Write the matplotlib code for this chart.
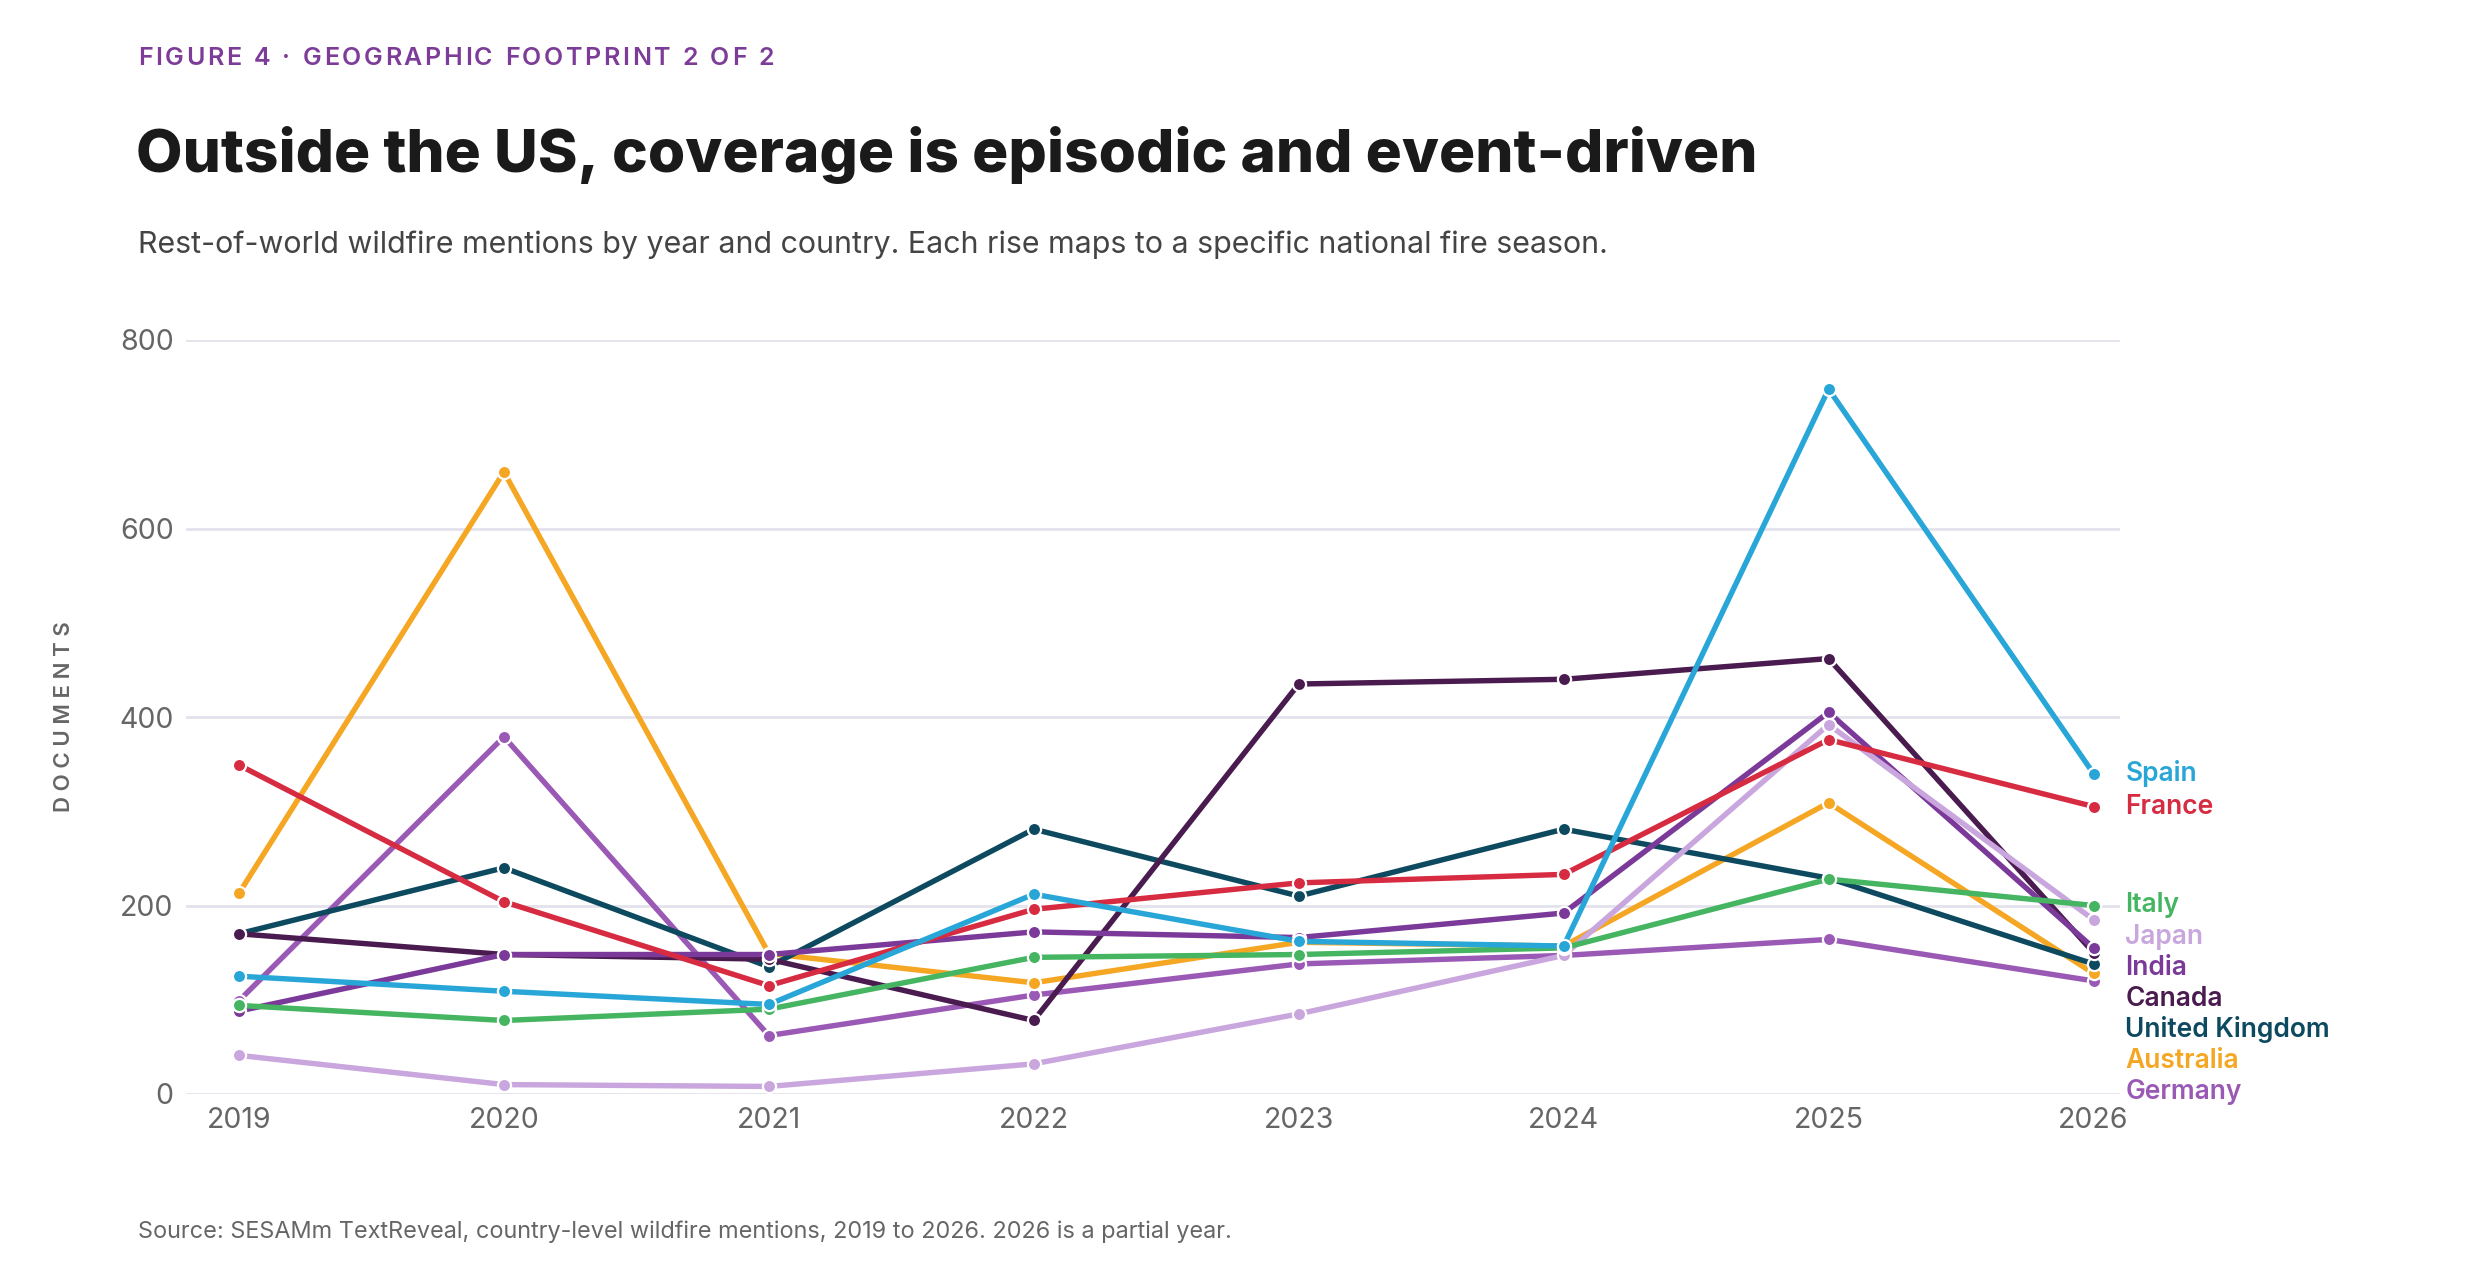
import matplotlib.pyplot as plt

years = [2019, 2020, 2021, 2022, 2023, 2024, 2025, 2026]

spain = [125, 109, 95, 212, 162, 157, 748, 340]
france = [349, 204, 115, 196, 224, 233, 376, 305]
italy = [94, 78, 90, 145, 148, 155, 228, 200]
japan = [41, 10, 8, 32, 85, 147, 392, 185]
india = [88, 148, 148, 172, 166, 192, 405, 155]
canada = [170, 148, 143, 78, 435, 440, 462, 150]
united_kingdom = [170, 240, 135, 281, 210, 281, 229, 138]
australia = [213, 660, 149, 118, 161, 157, 309, 128]
germany = [99, 379, 62, 105, 138, 147, 164, 120]

countries = ['Spain', 'France', 'Italy', 'Japan', 'India', 'Canada',
             'United Kingdom', 'Australia', 'Germany']
series = [spain, france, italy, japan, india, canada, united_kingdom, australia, germany]
colors = ['#29a6d8', '#d62b40', '#45b562', '#c9a6dd', '#7b3a99', '#4a1b4f',
          '#0e4a5f', '#f5a623', '#9b59b6']

plt.rcParams['font.family'] = ['Inter', 'DejaVu Sans']


def spaced_text(fig, x, y, s, spacing, **kw):
    """Draw s char by char with extra tracking (in pixels) between letters."""
    r = fig.canvas.get_renderer()
    px = x * fig.bbox.width
    for ch in s:
        t = fig.text(px / fig.bbox.width, y, ch, **kw)
        w = t.get_window_extent(renderer=r).width
        if ch == ' ':
            w = t.get_fontsize() * 0.28 * fig.dpi / 72
        px += w + spacing


fig = plt.figure(figsize=(24.8, 12.8), dpi=100)
ax = fig.add_axes([186 / 2480, 1 - 1094 / 1280, (2120 - 186) / 2480, (1094 - 340) / 1280])

# draw bottom of the list first so the top labels' lines sit above
for name, vals, c in reversed(list(zip(countries, series, colors))):
    ax.plot(years, vals, color=c, linewidth=3.9, marker='o', markersize=9.5,
            markeredgecolor='white', markeredgewidth=1.6, solid_joinstyle='round',
            clip_on=False, zorder=3)

ax.set_xlim(2018.8, 2026.1)
ax.set_ylim(0, 800)
ax.set_yticks([0, 200, 400, 600, 800])
ax.set_xticks(years)
ax.grid(axis='y', color='#e4e2ec', linewidth=2.0, zorder=0)
ax.set_axisbelow(True)
for s in ax.spines.values():
    s.set_visible(False)
ax.tick_params(length=0, labelsize=20.5, labelcolor='#666666')
ax.tick_params(axis='y', pad=9)
ax.tick_params(axis='x', pad=9)
ax.set_ylabel('D O C U M E N T S', fontsize=16, fontweight='semibold', color='#666666',
              labelpad=0)
ax.yaxis.set_label_coords(-0.058, 0.5)

# end labels, nudged apart so they do not overlap
ends = sorted(zip([v[-1] for v in series], countries, colors), reverse=True)
gap = 33
prev = None
for val, name, c in ends:
    y = val if prev is None else min(val, prev - gap)
    prev = y
    ax.annotate(name, xy=(years[-1], y), xytext=(23, 0), textcoords='offset points',
                ha='left', va='center', fontsize=19, fontweight='semibold', color=c,
                annotation_clip=False)

spaced_text(fig, 138 / 2480, 1 - 65 / 1280, 'FIGURE 4 · GEOGRAPHIC FOOTPRINT 2 OF 2', 2.6,
            fontsize=18, fontweight='semibold', color='#7d3c98', va='baseline')
fig.text(136 / 2480, 1 - 172 / 1280, 'Outside the US, coverage is episodic and event-driven',
         fontsize=43.4, fontweight='heavy', color='#1a1a1a', va='baseline')
fig.text(138 / 2480, 1 - 253 / 1280,
         'Rest-of-world wildfire mentions by year and country. Each rise maps to a specific national fire season.',
         fontsize=21.9, color='#444444', va='baseline')
fig.text(138 / 2480, 1 - 1238 / 1280,
         'Source: SESAMm TextReveal, country-level wildfire mentions, 2019 to 2026. 2026 is a partial year.',
         fontsize=16.9, color='#666666', va='baseline')

fig.savefig('out.png', dpi=100, facecolor='white')
